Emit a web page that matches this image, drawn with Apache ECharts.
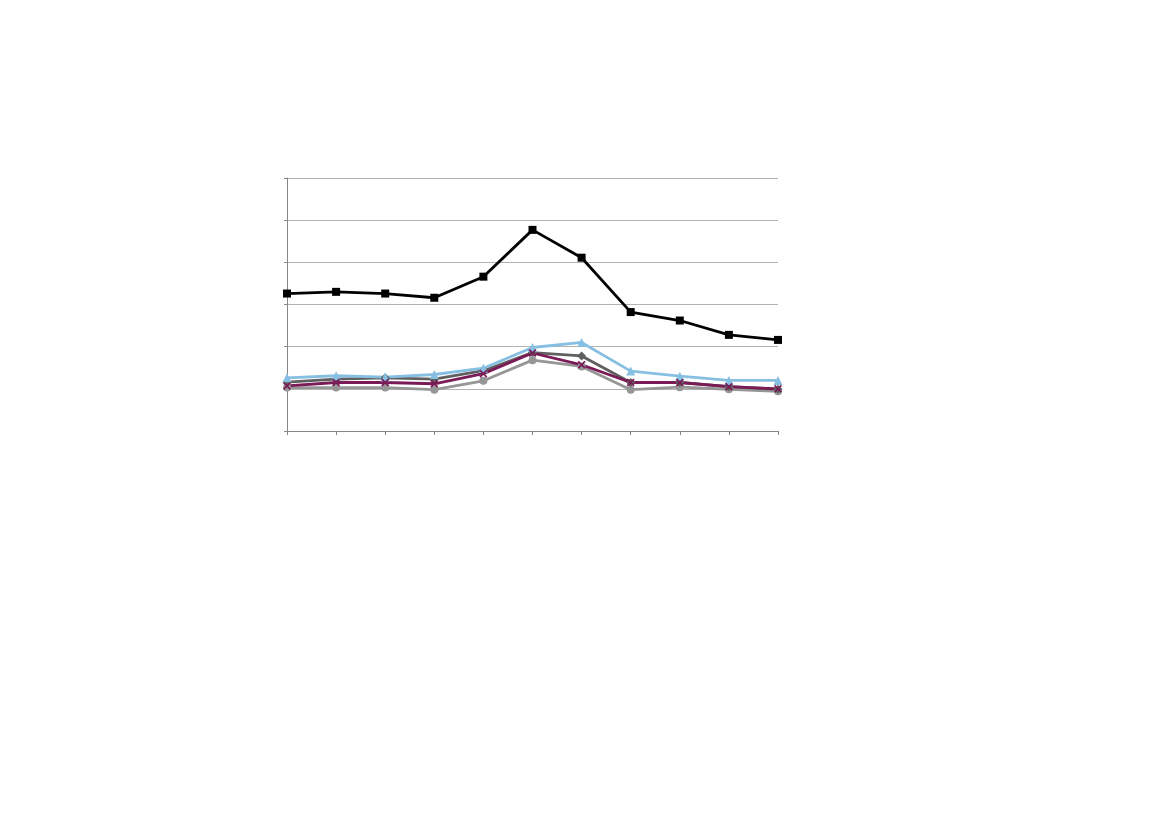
<!DOCTYPE html>
<html>
<head>
<meta charset="utf-8">
<script src="https://cdn.jsdelivr.net/npm/echarts@6/dist/echarts.min.js"></script>
<style>
  html, body { margin: 0; padding: 0; background: #fff; }
  #chart { width: 1169px; height: 826px; }
</style>
</head>
<body>
<div id="chart"></div>
<script>
// categories (no labels shown in the picture)
var categories = ['1', '2', '3', '4', '5', '6', '7', '8', '9', '10', '11'];
var yTicks = [0, 1, 2, 3, 4, 5, 6];

// series values (one grid step = 1)
var squareVals  = [3.26, 3.30, 3.26, 3.16, 3.66, 4.77, 4.11, 2.82, 2.62, 2.28, 2.16];
var triVals     = [1.26, 1.31, 1.28, 1.34, 1.49, 1.98, 2.10, 1.42, 1.30, 1.20, 1.20];
var diamondVals = [1.16, 1.23, 1.26, 1.23, 1.43, 1.86, 1.78, 1.15, 1.15, 1.05, 0.99];
var crossVals   = [1.07, 1.15, 1.15, 1.12, 1.36, 1.85, 1.57, 1.15, 1.15, 1.05, 1.00];
var circleVals  = [1.03, 1.03, 1.03, 0.98, 1.19, 1.68, 1.53, 0.98, 1.04, 0.99, 0.94];

var crossPath = 'path://M0,1.5L1.5,0L5,3.5L8.5,0L10,1.5L6.5,5L10,8.5L8.5,10L5,6.5L1.5,10L0,8.5L3.5,5Z';

function line(name, data, color, symbol, size) {
    return {
        name: name,
        type: 'line',
        data: data,
        symbol: symbol,
        symbolSize: size,
        showSymbol: true,
        lineStyle: { color: color, width: 2.8 },
        itemStyle: { color: color },
        animation: false
    };
}

var chart = echarts.init(document.getElementById('chart'));
chart.setOption({
    backgroundColor: '#fff',
    grid: { left: 287, right: 391, top: 178, bottom: 395 },
    xAxis: {
        type: 'category',
        data: categories,
        boundaryGap: false,
        axisLine: { lineStyle: { color: '#868686', width: 1 } },
        axisTick: { show: true, inside: false, length: 4, lineStyle: { color: '#868686' } },
        axisLabel: { show: false },
        splitLine: { show: false }
    },
    yAxis: {
        type: 'value',
        min: yTicks[0],
        max: yTicks[yTicks.length - 1],
        interval: 1,
        axisLine: { show: true, lineStyle: { color: '#868686', width: 1 } },
        axisTick: { show: true, length: 3, lineStyle: { color: '#868686' } },
        axisLabel: { show: false },
        splitLine: { show: true, lineStyle: { color: '#b3b3b3', width: 1 } }
    },
    series: [
        line('circle', circleVals, '#969696', 'circle', 8),
        line('diamond', diamondVals, '#5f5f5f', 'diamond', 9),
        line('square', squareVals, '#000000', 'rect', 8),
        line('triangle', triVals, '#86bfe2', 'triangle', 9),
        line('cross', crossVals, '#7a1a56', crossPath, 8)
    ]
});
</script>
</body>
</html>
